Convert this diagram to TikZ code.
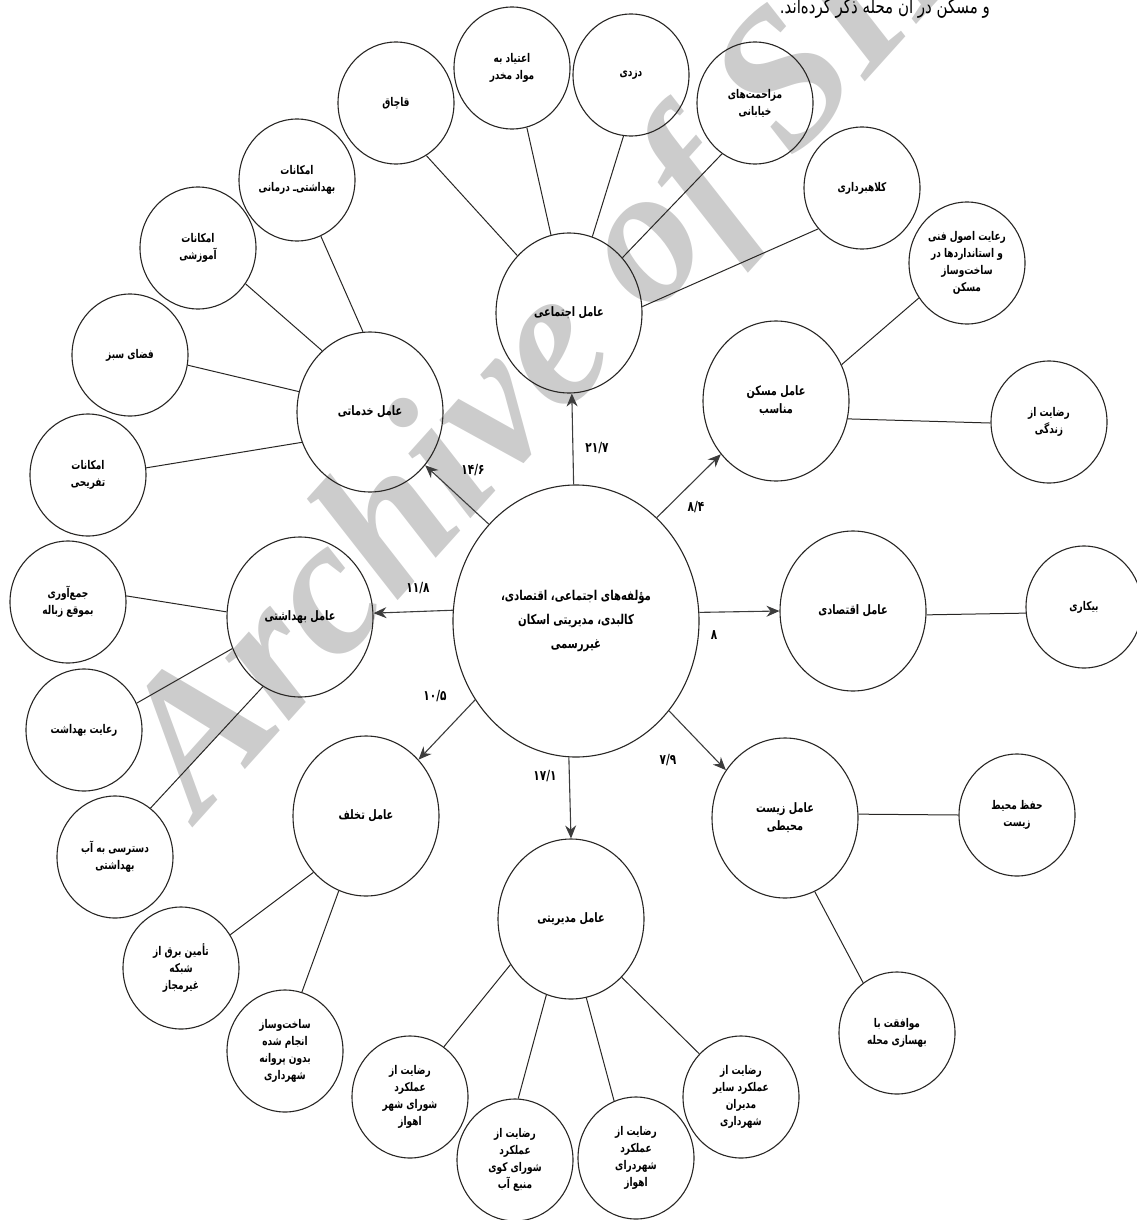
\documentclass[tikz,border=0pt]{standalone}
\usepackage{fontspec}
\usetikzlibrary{shapes.geometric,arrows.meta}
\TeXXeTstate=1
\newfontfamily\fafont[Script=Arabic,FakeStretch=0.75]{DejaVu Sans}
\newfontfamily\wmfont{Liberation Serif}
\newcommand\prs[1]{\beginR #1\endR}
\definecolor{linec}{RGB}{40,38,36}
\definecolor{arrc}{RGB}{60,60,60}
\definecolor{wmgray}{RGB}{204,204,204}
\begin{document}
\begin{tikzpicture}[x=1pt,y=-1pt,
  big/.style={ellipse, draw=linec, line width=1.1pt, minimum width=146pt, minimum height=160pt, inner sep=0pt, align=center, font=\fafont\bfseries\fontsize{13}{18}\selectfont},
  cen/.style={big, minimum width=246pt, minimum height=272pt, font=\fafont\bfseries\fontsize{13.5}{24}\selectfont},
  leaf/.style={big, minimum width=116pt, minimum height=122pt, font=\fafont\bfseries\fontsize{12}{17}\selectfont},
  lnk/.style={draw=linec, line width=1pt},
  arr/.style={draw=arrc, line width=1.1pt, -{Stealth[length=13pt,width=11pt]}},
  lab/.style={font=\fafont\bfseries\fontsize{14}{14}\selectfont, inner sep=0pt}]
\useasboundingbox (0,0) rectangle (1137,1220);
\begin{scope}
\clip (0,0) rectangle (1137,1220);
\node[font=\wmfont\bfseries\itshape\fontsize{195}{195}\selectfont, text=wmgray, rotate=48, inner sep=0pt] (wm) at (570,338) {Archive of SID};
\node[font=\fafont\fontsize{20}{22}\selectfont, anchor=base east, inner sep=0pt] (top) at (990,14) {\prs{و مسکن در آن محله ذکر کرده‌اند.}};
\end{scope}

% main nodes
\node[cen] (C) at (576,621) {\prs{مؤلفه‌های اجتماعی، اقتصادی،}\\ \prs{کالبدی، مدیریتی اسکان}\\ \prs{غیررسمی}};
\node[big] (soc) at (569,313) {\prs{عامل اجتماعی}};
\node[big] (srv) at (370,412) {\prs{عامل خدماتی}};
\node[big] (hlt) at (300,617) {\prs{عامل بهداشتی}};
\node[big] (vio) at (366,816) {\prs{عامل تخلف}};
\node[big] (mgt) at (571,919) {\prs{عامل مدیریتی}};
\node[big] (env) at (785,818) {\prs{عامل زیست}\\ \prs{محیطی}};
\node[big] (eco) at (853,611) {\prs{عامل اقتصادی}};
\node[big] (hou) at (776,401) {\prs{عامل مسکن}\\ \prs{مناسب}};

% leaves
\node[leaf] (qach) at (396,103) {\prs{قاچاق}};
\node[leaf] (etiad) at (512,68) {\prs{اعتیاد به}\\ \prs{مواد مخدر}};
\node[leaf] (dozdi) at (631,75) {\prs{دزدی}};
\node[leaf] (mozahem) at (755,103) {\prs{مزاحمت‌های}\\ \prs{خیابانی}};
\node[leaf] (kolah) at (862,188) {\prs{کلاهبرداری}};
\node[leaf] (osul) at (967,263) {\prs{رعایت اصول فنی}\\ \prs{و استانداردها در}\\ \prs{ساخت‌وساز}\\ \prs{مسکن}};
\node[leaf] (zendegi) at (1049,422) {\prs{رضایت از}\\ \prs{زندگی}};
\node[leaf] (bikari) at (1084,607) {\prs{بیکاری}};
\node[leaf] (hefz) at (1017,815) {\prs{حفظ محیط}\\ \prs{زیست}};
\node[leaf] (movafeq) at (897,1033) {\prs{موافقت با}\\ \prs{بهسازی محله}};
\node[leaf] (sayer) at (741,1097) {\prs{رضایت از}\\ \prs{عملکرد سایر}\\ \prs{مدیران}\\ \prs{شهرداری}};
\node[leaf] (shahrdar) at (636,1158) {\prs{رضایت از}\\ \prs{عملکرد}\\ \prs{شهردرای}\\ \prs{اهواز}};
\node[leaf] (kuy) at (515,1160) {\prs{رضایت از}\\ \prs{عملکرد}\\ \prs{شورای کوی}\\ \prs{منبع آب}};
\node[leaf] (shora) at (410,1097) {\prs{رضایت از}\\ \prs{عملکرد}\\ \prs{شورای شهر}\\ \prs{اهواز}};
\node[leaf] (sakht) at (285,1051) {\prs{ساخت‌وساز}\\ \prs{انجام شده}\\ \prs{بدون پروانه}\\ \prs{شهرداری}};
\node[leaf] (bargh) at (181,968) {\prs{تأمین برق از}\\ \prs{شبکه}\\ \prs{غیرمجاز}};
\node[leaf] (dastresi) at (115,857) {\prs{دسترسی به آب}\\ \prs{بهداشتی}};
\node[leaf] (reayat) at (84,730) {\prs{رعایت بهداشت}};
\node[leaf] (jam) at (68,602) {\prs{جمع‌آوری}\\ \prs{بموقع زباله}};
\node[leaf] (tafrihi) at (88,475) {\prs{امکانات}\\ \prs{تفریحی}};
\node[leaf] (sabz) at (130,355) {\prs{فضای سبز}};
\node[leaf] (amuzesh) at (198,248) {\prs{امکانات}\\ \prs{آموزشی}};
\node[leaf] (darman) at (297,180) {\prs{امکانات}\\ \prs{بهداشتی‌ـ درمانی}};

% links
\draw[lnk] (soc.132.4) -- (qach.-60.1);
\draw[lnk] (soc.103.7) -- (etiad.-76.4);
\draw[lnk] (soc.73.6) -- (dozdi.-97.4);
\draw[lnk] (soc.46.5) -- (mozahem.-123.9);
\draw[lnk] (soc.5.4) -- (kolah.-137.7);
\draw[lnk] (hou.29.9) -- (osul.-144.1);
\draw[lnk] (hou.-14) -- (zendegi.181);
\draw[lnk] (eco.-3.1) -- (bikari.186.9);
\draw[lnk] (env.3.9) -- (hefz.180);
\draw[lnk] (env.-68.2) -- (movafeq.124.5);
\draw[lnk] (mgt.217.9) -- (shora.56);
\draw[lnk] (mgt.-108.9) -- (kuy.87.1);
\draw[lnk] (mgt.-79.9) -- (shahrdar.111.6);
\draw[lnk] (mgt.-49.1) -- (sayer.134.3);
\draw[lnk] (vio.-133.5) -- (bargh.34.5);
\draw[lnk] (vio.-110.5) -- (sakht.74.3);
\draw[lnk] (hlt.176.1) -- (jam.6.8);
\draw[lnk] (hlt.205.2) -- (reayat.27.9);
\draw[lnk] (hlt.242.5) -- (dastresi.54.6);
\draw[lnk] (srv.95.7) -- (darman.-67.5);
\draw[lnk] (srv.128.7) -- (amuzesh.-37.3);
\draw[lnk] (srv.164.5) -- (sabz.-10.9);
\draw[lnk] (srv.204.8) -- (tafrihi.7);

% arrows from the centre
\draw[arr] (C.91.7) -- (soc.-88);
\draw[arr] (C.132.8) -- (srv.-44);
\draw[arr] (C.52.3) -- (hou.-136);
\draw[arr] (C.175.8) -- (hlt.3.1);
\draw[arr] (C.4.2) -- (eco.180.8);
\draw[arr] (C.218.5) -- (vio.47.5);
\draw[arr] (C.267.5) -- (mgt.90);
\draw[arr] (C.-44.7) -- (env.141.5);

% labels
\node[lab] (l1) at (597,448) {۲۱/۷};
\node[lab] (l2) at (473,470) {۱۴/۶};
\node[lab] (l3) at (696,507) {۸/۴};
\node[lab] (l4) at (418,588) {۱۱/۸};
\node[lab] (l5) at (714,635) {۸};
\node[lab] (l6) at (435,696) {۱۰/۵};
\node[lab] (l7) at (545,776) {۱۷/۱};
\node[lab] (l8) at (668,760) {۷/۹};
\end{tikzpicture}
\end{document}
